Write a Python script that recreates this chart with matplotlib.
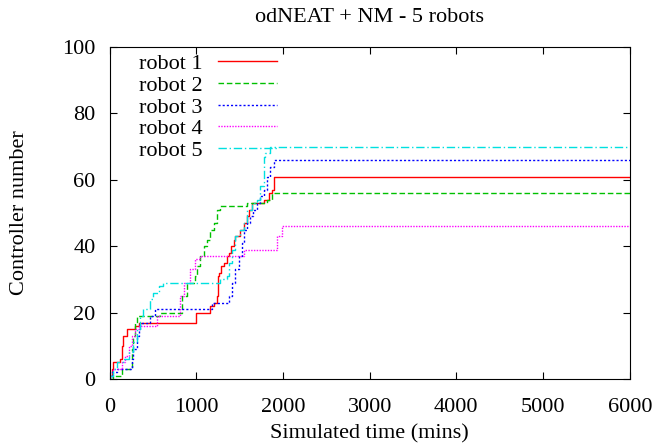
import matplotlib
matplotlib.use("Agg")
import matplotlib.pyplot as plt

plt.rcParams['font.family'] = ['Liberation Serif', 'DejaVu Serif']

# step data: simulated time (mins) -> controller number
r1_t = [0, 25, 45, 120, 140, 160, 200, 295, 335, 1000, 1160, 1200, 1240, 1250, 1260, 1280, 1315,
        1355, 1375, 1395, 1430, 1450, 1510, 1545, 1585, 1605, 1645, 1780, 1835, 1875, 1895, 6000]
r1_n = [1, 3, 5, 6, 10, 13, 15, 16, 17, 20, 22, 23, 25, 31, 32, 34, 35,
        37, 38, 40, 42, 43, 45, 47, 49, 51, 53, 54, 56, 57, 61, 61]

r2_t = [0, 45, 140, 255, 275, 295, 315, 580, 835, 890, 985, 1005, 1045, 1085, 1120, 1160,
        1200, 1240, 1275, 1585, 1815, 1875, 6000]
r2_n = [0, 1, 3, 9, 13, 17, 19, 20, 25, 29, 31, 34, 37, 40, 42, 45,
        47, 51, 52, 53, 54, 56, 56]

r3_t = [0, 25, 85, 255, 275, 315, 335, 355, 470, 525, 1180, 1375, 1410, 1450, 1490, 1530,
        1545, 1585, 1625, 1660, 1700, 1740, 1780, 1815, 1855, 1895, 6000]
r3_n = [0, 2, 3, 6, 9, 13, 15, 17, 19, 21, 23, 25, 29, 33, 37, 41,
        45, 47, 49, 51, 53, 55, 57, 61, 64, 66, 66]

r4_t = [0, 45, 140, 180, 220, 255, 295, 335, 545, 815, 855, 930, 990, 1045, 1545, 1930, 1990, 6000]
r4_n = [1, 3, 5, 7, 10, 13, 15, 16, 19, 25, 29, 33, 36, 37, 39, 43, 46, 46]

r5_t = [0, 45, 85, 160, 220, 275, 315, 355, 390, 470, 505, 565, 620, 1275, 1355, 1375, 1410,
        1450, 1510, 1545, 1585, 1645, 1700, 1740, 1780, 1795, 1855, 6000]
r5_n = [1, 3, 5, 6, 8, 11, 15, 19, 21, 24, 26, 28, 29, 30, 31, 35, 39,
        43, 45, 47, 51, 53, 54, 58, 67, 68, 70, 70]

labels = ['robot 1', 'robot 2', 'robot 3', 'robot 4', 'robot 5']
series = [(r1_t, r1_n), (r2_t, r2_n), (r3_t, r3_n), (r4_t, r4_n), (r5_t, r5_n)]
colors = ['#ff0000', '#00c000', '#0000ff', '#ff00ff', '#00e0e0']
styles = ['-', (0, (4, 2)), (0, (1.5, 1.5)), (0, (1, 1)), (0, (6, 2, 1, 2))]

fig = plt.figure(figsize=(6.56, 4.48), dpi=100)
ax = fig.add_axes([0.167, 0.154, 0.793, 0.741])

for (t, n), lab, c, ls in zip(series, labels, colors, styles):
    ax.plot(t, n, drawstyle='steps-post', color=c, linestyle=ls, lw=1, label=lab)

ax.set_xlim(0, 6000)
ax.set_ylim(0, 100)
ax.set_xticks(range(0, 6001, 1000))
ax.set_yticks(range(0, 101, 20))
ax.tick_params(direction='in', top=True, right=True, labelsize=16, length=5)
ax.tick_params(axis='x', pad=14)
ax.tick_params(axis='y', pad=10)

ax.set_title('odNEAT + NM - 5 robots', fontsize=16, pad=18)
ax.set_xlabel('Simulated time (mins)', fontsize=16, labelpad=5)
ax.set_ylabel('Controller number', fontsize=16)
ax.yaxis.set_label_coords(-0.155, 0.5)

ax.legend(loc='upper left', frameon=False, markerfirst=False, fontsize=16,
          handlelength=2.65, handletextpad=0.7, labelspacing=0.05,
          borderpad=0, borderaxespad=0, bbox_to_anchor=(0.057, 0.98))

fig.savefig('out.png', dpi=100)
